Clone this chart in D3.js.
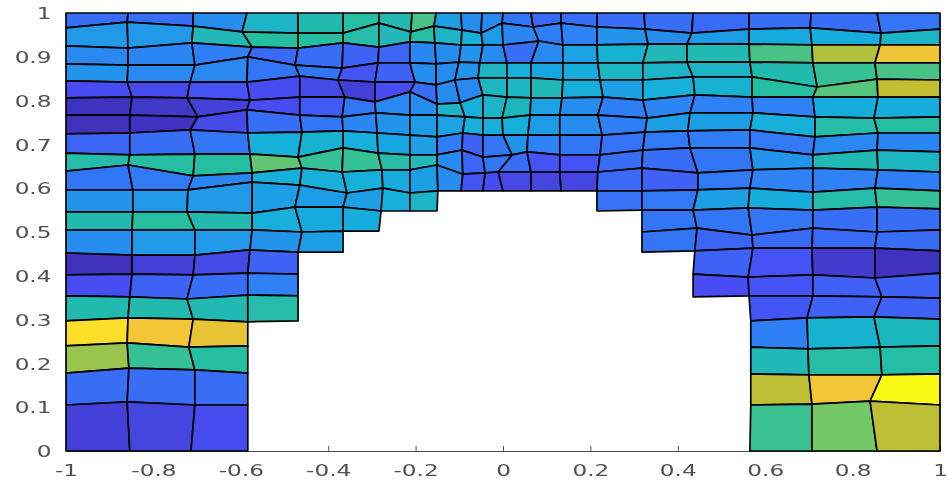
<!DOCTYPE html>
<html>
<head>
<meta charset="utf-8">
<title>mesh</title>
<script src="https://cdnjs.cloudflare.com/ajax/libs/d3/7.8.5/d3.min.js"></script>
<style>
    html, body { margin: 0; padding: 0; background: #fff; }
    svg { display: block; }
</style>
</head>
<body>
<div id="chart"></div>
<script>
/*jslint browser: true*/
/*global d3*/

var _ = null;

var xTicks = [-1, -0.8, -0.6, -0.4, -0.2, 0, 0.2, 0.4, 0.6, 0.8, 1];
var yTicks = [0, 0.1, 0.2, 0.3, 0.4, 0.5, 0.6, 0.7, 0.8, 0.9, 1];

// parula colormap, sampled
var colorStops = [0, 0.125, 0.25, 0.375, 0.5, 0.625, 0.75, 0.875, 1];
var colorRamp = ['#3e26a8', '#4650f5', '#2d82f5', '#14afdc', '#28bea0', '#78c864', '#c3be32', '#fac738', '#f9fb15'];

// mesh node x, one row per horizontal mesh line, top to bottom
var nodeX = [
    [-1, -0.858, -0.709, -0.586, -0.469, -0.366, -0.284, -0.208, -0.153, -0.096, -0.048, 0, 0.064, 0.133, 0.215, 0.323, 0.435, 0.563, 0.705, 0.856, 1],
    [-1, -0.860, -0.709, -0.597, -0.469, -0.366, -0.284, -0.211, -0.158, -0.094, -0.050, -0.002, 0.069, 0.133, 0.215, 0.325, 0.432, 0.563, 0.703, 0.865, 1],
    [-1, -0.858, -0.712, -0.574, -0.469, -0.366, -0.284, -0.213, -0.156, -0.096, -0.046, 0, 0.082, 0.137, 0.215, 0.332, 0.421, 0.563, 0.707, 0.863, 1],
    [-1, -0.858, -0.705, -0.584, -0.476, -0.368, -0.286, -0.213, -0.153, -0.101, -0.053, 0.009, 0.064, 0.137, 0.217, 0.320, 0.421, 0.565, 0.709, 0.851, 1],
    [-1, -0.860, -0.716, -0.586, -0.465, -0.378, -0.293, -0.201, -0.153, -0.110, -0.057, 0.009, 0.064, 0.137, 0.222, 0.320, 0.435, 0.570, 0.719, 0.856, 1],
    [-1, -0.849, -0.723, -0.579, -0.465, -0.362, -0.293, -0.213, -0.151, -0.098, -0.046, 0.009, 0.064, 0.135, 0.229, 0.320, 0.439, 0.570, 0.709, 0.858, 1],
    [-1, -0.854, -0.698, -0.586, -0.465, -0.368, -0.291, -0.213, -0.151, -0.087, -0.046, -0.002, 0.062, 0.130, 0.217, 0.330, 0.428, 0.572, 0.714, 0.849, 1],
    [-1, -0.854, -0.716, -0.584, -0.460, -0.366, -0.288, -0.213, -0.151, -0.092, -0.046, 0, 0.057, 0.130, 0.227, 0.325, 0.423, 0.565, 0.714, 0.858, 1],
    [-1, -0.854, -0.705, -0.579, -0.469, -0.366, -0.286, -0.213, -0.151, -0.094, -0.046, 0.021, 0.055, 0.130, 0.222, 0.320, 0.428, 0.565, 0.709, 0.856, 1],
    [-1, -0.858, -0.709, -0.574, -0.460, -0.368, -0.277, -0.213, -0.151, -0.092, -0.041, -0.011, 0.064, 0.130, 0.217, 0.318, 0.446, 0.572, 0.709, 0.858, 1],
    [-1, -0.847, -0.721, -0.574, -0.465, -0.357, -0.275, -0.213, -0.149, -0.096, -0.046, 0, 0.064, 0.133, 0.215, 0.318, 0.446, 0.565, 0.709, 0.851, 1],
    [-1, -0.847, -0.723, -0.574, -0.476, -0.366, -0.279, -0.213, -0.151, _, _, _, _, _, 0.215, 0.318, 0.435, 0.561, 0.709, 0.856, 1],
    [-1, -0.849, -0.705, -0.574, -0.460, -0.366, -0.284, _, _, _, _, _, _, _, _, 0.318, 0.444, 0.570, 0.709, 0.856, 1],
    [-1, -0.849, -0.705, -0.579, -0.469, -0.366, _, _, _, _, _, _, _, _, _, 0.318, 0.439, 0.572, 0.707, 0.851, 1],
    [-1, -0.849, -0.709, -0.584, -0.469, _, _, _, _, _, _, _, _, _, _, _, 0.435, 0.561, 0.709, 0.851, 1],
    [-1, -0.854, -0.723, -0.584, -0.469, _, _, _, _, _, _, _, _, _, _, _, 0.435, 0.563, 0.709, 0.867, 1],
    [-1, -0.858, -0.709, -0.584, -0.469, _, _, _, _, _, _, _, _, _, _, _, _, 0.567, 0.696, 0.849, 1],
    [-1, -0.860, -0.719, -0.584, _, _, _, _, _, _, _, _, _, _, _, _, _, 0.567, 0.698, 0.863, 1],
    [-1, -0.856, -0.705, -0.584, _, _, _, _, _, _, _, _, _, _, _, _, _, 0.567, 0.700, 0.867, 1],
    [-1, -0.860, -0.705, -0.584, _, _, _, _, _, _, _, _, _, _, _, _, _, 0.567, 0.707, 0.840, 1],
    [-1, -0.854, -0.714, -0.584, _, _, _, _, _, _, _, _, _, _, _, _, _, 0.565, 0.707, 0.856, 1]
];

// mesh node y, same layout as nodeX
var nodeY = [
    [1, 1, 1, 1, 1, 1, 1, 1, 1, 1, 1, 1, 1, 1, 1, 1, 1, 1, 1, 1, 1],
    [0.966, 0.979, 0.970, 0.957, 0.954, 0.954, 0.977, 0.957, 0.970, 0.961, 0.954, 0.977, 0.968, 0.977, 0.968, 0.963, 0.954, 0.963, 0.966, 0.954, 0.963],
    [0.925, 0.920, 0.932, 0.922, 0.920, 0.932, 0.922, 0.934, 0.932, 0.927, 0.927, 0.927, 0.936, 0.927, 0.927, 0.929, 0.929, 0.929, 0.927, 0.927, 0.927],
    [0.884, 0.881, 0.881, 0.900, 0.881, 0.874, 0.886, 0.886, 0.884, 0.888, 0.886, 0.886, 0.886, 0.886, 0.886, 0.886, 0.888, 0.888, 0.886, 0.886, 0.886],
    [0.845, 0.842, 0.842, 0.842, 0.856, 0.847, 0.842, 0.842, 0.836, 0.847, 0.852, 0.852, 0.852, 0.847, 0.847, 0.847, 0.854, 0.854, 0.831, 0.849, 0.847],
    [0.806, 0.808, 0.806, 0.801, 0.808, 0.808, 0.797, 0.820, 0.792, 0.795, 0.813, 0.808, 0.806, 0.806, 0.808, 0.801, 0.813, 0.808, 0.808, 0.808, 0.808],
    [0.767, 0.767, 0.763, 0.779, 0.767, 0.763, 0.772, 0.767, 0.767, 0.763, 0.760, 0.760, 0.767, 0.767, 0.767, 0.760, 0.772, 0.772, 0.763, 0.760, 0.763],
    [0.724, 0.726, 0.733, 0.726, 0.728, 0.731, 0.726, 0.721, 0.717, 0.726, 0.721, 0.721, 0.721, 0.721, 0.721, 0.728, 0.731, 0.733, 0.717, 0.726, 0.726],
    [0.680, 0.676, 0.678, 0.678, 0.671, 0.692, 0.680, 0.676, 0.676, 0.687, 0.671, 0.676, 0.683, 0.676, 0.676, 0.687, 0.692, 0.692, 0.676, 0.687, 0.683],
    [0.639, 0.653, 0.628, 0.635, 0.646, 0.637, 0.642, 0.642, 0.653, 0.632, 0.635, 0.637, 0.637, 0.637, 0.637, 0.646, 0.635, 0.642, 0.646, 0.642, 0.637],
    [0.596, 0.596, 0.596, 0.614, 0.607, 0.589, 0.600, 0.589, 0.594, 0.594, 0.594, 0.594, 0.594, 0.594, 0.594, 0.594, 0.596, 0.600, 0.591, 0.600, 0.594],
    [0.546, 0.546, 0.546, 0.543, 0.557, 0.557, 0.548, 0.548, 0.548, _, _, _, _, _, 0.548, 0.550, 0.550, 0.555, 0.550, 0.557, 0.553],
    [0.505, 0.505, 0.505, 0.505, 0.500, 0.502, 0.502, _, _, _, _, _, _, _, _, 0.500, 0.509, 0.493, 0.509, 0.500, 0.505],
    [0.452, 0.447, 0.447, 0.459, 0.454, 0.454, _, _, _, _, _, _, _, _, _, 0.454, 0.457, 0.463, 0.463, 0.463, 0.457],
    [0.402, 0.404, 0.402, 0.406, 0.404, _, _, _, _, _, _, _, _, _, _, _, 0.404, 0.397, 0.402, 0.395, 0.406],
    [0.354, 0.352, 0.347, 0.356, 0.354, _, _, _, _, _, _, _, _, _, _, _, 0.352, 0.354, 0.354, 0.352, 0.349],
    [0.297, 0.304, 0.301, 0.295, 0.297, _, _, _, _, _, _, _, _, _, _, _, _, 0.297, 0.304, 0.306, 0.301],
    [0.240, 0.247, 0.237, 0.240, _, _, _, _, _, _, _, _, _, _, _, _, _, 0.237, 0.233, 0.237, 0.240],
    [0.178, 0.189, 0.185, 0.178, _, _, _, _, _, _, _, _, _, _, _, _, _, 0.176, 0.174, 0.174, 0.176],
    [0.105, 0.112, 0.105, 0.105, _, _, _, _, _, _, _, _, _, _, _, _, _, 0.105, 0.107, 0.114, 0.105],
    [0, 0, 0, 0, _, _, _, _, _, _, _, _, _, _, _, _, _, 0, 0, 0, 0]
];

// value of each cell, null where the mesh has a hole
var cellValues = [
    [0.20, 0.20, 0.28, 0.42, 0.47, 0.50, 0.47, 0.55, 0.33, 0.28, 0.27, 0.22, 0.19, 0.20, 0.20, 0.20, 0.19, 0.20, 0.20, 0.22],
    [0.31, 0.31, 0.45, 0.50, 0.50, 0.48, 0.45, 0.50, 0.42, 0.38, 0.32, 0.26, 0.24, 0.25, 0.30, 0.28, 0.32, 0.36, 0.37, 0.42],
    [0.27, 0.26, 0.24, 0.19, 0.20, 0.17, 0.18, 0.26, 0.28, 0.30, 0.28, 0.20, 0.27, 0.34, 0.40, 0.45, 0.46, 0.55, 0.72, 0.85],
    [0.30, 0.27, 0.27, 0.22, 0.22, 0.14, 0.17, 0.28, 0.28, 0.30, 0.43, 0.38, 0.35, 0.37, 0.43, 0.42, 0.42, 0.47, 0.52, 0.55],
    [0.12, 0.11, 0.13, 0.12, 0.10, 0.08, 0.12, 0.20, 0.28, 0.27, 0.43, 0.43, 0.46, 0.38, 0.33, 0.38, 0.40, 0.50, 0.57, 0.75],
    [0.04, 0.05, 0.08, 0.12, 0.15, 0.22, 0.27, 0.28, 0.42, 0.38, 0.42, 0.44, 0.34, 0.28, 0.24, 0.26, 0.25, 0.25, 0.37, 0.37],
    [0.03, 0.04, 0.10, 0.20, 0.22, 0.26, 0.30, 0.32, 0.34, 0.38, 0.38, 0.38, 0.32, 0.28, 0.24, 0.33, 0.33, 0.38, 0.48, 0.50],
    [0.18, 0.20, 0.22, 0.38, 0.40, 0.38, 0.35, 0.33, 0.24, 0.17, 0.22, 0.30, 0.25, 0.22, 0.21, 0.23, 0.24, 0.23, 0.27, 0.26],
    [0.48, 0.50, 0.50, 0.59, 0.52, 0.52, 0.48, 0.45, 0.28, 0.18, 0.22, 0.20, 0.13, 0.13, 0.20, 0.20, 0.22, 0.30, 0.46, 0.43],
    [0.22, 0.23, 0.26, 0.38, 0.38, 0.38, 0.36, 0.33, 0.28, 0.14, 0.12, 0.10, 0.09, 0.09, 0.19, 0.17, 0.23, 0.25, 0.25, 0.24],
    [0.30, 0.31, 0.31, 0.33, 0.32, 0.33, 0.38, 0.42, _, _, _, _, _, _, 0.21, 0.23, 0.33, 0.37, 0.48, 0.52],
    [0.47, 0.50, 0.47, 0.38, 0.36, 0.37, _, _, _, _, _, _, _, _, _, 0.22, 0.22, 0.22, 0.20, 0.20],
    [0.28, 0.31, 0.31, 0.30, 0.33, _, _, _, _, _, _, _, _, _, _, 0.22, 0.18, 0.19, 0.19, 0.20],
    [0.03, 0.08, 0.10, 0.17, _, _, _, _, _, _, _, _, _, _, _, _, 0.17, 0.13, 0.06, 0.04],
    [0.12, 0.17, 0.20, 0.25, _, _, _, _, _, _, _, _, _, _, _, _, 0.12, 0.13, 0.16, 0.17],
    [0.47, 0.47, 0.46, 0.48, _, _, _, _, _, _, _, _, _, _, _, _, _, 0.14, 0.17, 0.17],
    [0.93, 0.86, 0.83, _, _, _, _, _, _, _, _, _, _, _, _, _, _, 0.24, 0.40, 0.44],
    [0.68, 0.52, 0.50, _, _, _, _, _, _, _, _, _, _, _, _, _, _, 0.45, 0.49, 0.49],
    [0.20, 0.20, 0.20, _, _, _, _, _, _, _, _, _, _, _, _, _, _, 0.74, 0.86, 1],
    [0.08, 0.09, 0.11, _, _, _, _, _, _, _, _, _, _, _, _, _, _, 0.53, 0.62, 0.74]
];

(function (d3) {
    'use strict';

    var width = 948,
        height = 481,
        x = d3.scaleLinear().domain([-1, 1]).range([66, 940]),
        y = d3.scaleLinear().domain([0, 1]).range([451, 13]),
        color = d3.scaleLinear().domain(colorStops).range(colorRamp),
        cells = [],
        svg,
        plot,
        quad;

    cellValues.forEach(function (row, i) {
        row.forEach(function (v, j) {
            if (v !== null) {
                cells.push({
                    value: v,
                    nodes: [[i, j], [i, j + 1], [i + 1, j + 1], [i + 1, j]]
                });
            }
        });
    });

    quad = d3.line()
        .x(function (n) { return x(nodeX[n[0]][n[1]]); })
        .y(function (n) { return y(nodeY[n[0]][n[1]]); })
        .curve(d3.curveLinearClosed);

    svg = d3.select('#chart').append('svg')
        .attr('width', width)
        .attr('height', height);

    // the reference is a soft, resampled image
    svg.append('defs').append('filter')
        .attr('id', 'soft')
        .attr('x', 0).attr('y', 0)
        .attr('width', 1).attr('height', 1)
        .append('feGaussianBlur')
        .attr('stdDeviation', 0.45);

    plot = svg.append('g').attr('filter', 'url(#soft)');

    plot.append('rect')
        .attr('width', width)
        .attr('height', height)
        .attr('fill', '#fff');

    function styleAxis(g) {
        g.selectAll('path, line')
            .attr('stroke', '#505050')
            .attr('stroke-width', 1);
        g.selectAll('text')
            .attr('fill', '#505050')
            .attr('font-family', '"DejaVu Sans"')
            .attr('font-size', 16)
            .attr('transform', 'scale(1.45,1)');
    }

    // axes sit under the patches, as in the original figure
    plot.append('g')
        .attr('transform', 'translate(0,451)')
        .call(d3.axisBottom(x).tickValues(xTicks).tickFormat(String).tickSizeInner(-5).tickSizeOuter(0))
        .call(styleAxis)
        .call(function (g) {
            g.selectAll('text').attr('y', 25).attr('dy', 0);
        });

    plot.append('g')
        .attr('transform', 'translate(66,0)')
        .call(d3.axisLeft(y).tickValues(yTicks).tickFormat(String).tickSizeInner(-5).tickSizeOuter(0))
        .call(styleAxis)
        .call(function (g) {
            g.selectAll('text').attr('x', -10).attr('dy', '0.36em');
        });

    plot.append('g')
        .attr('class', 'mesh')
        .selectAll('path')
        .data(cells)
        .enter()
        .append('path')
        .attr('d', function (d) { return quad(d.nodes); })
        .attr('fill', function (d) { return color(d.value); })
        .attr('stroke', '#000')
        .attr('stroke-width', 1.7)
        .attr('stroke-linejoin', 'round');
}(window.d3));
</script>
</body>
</html>
